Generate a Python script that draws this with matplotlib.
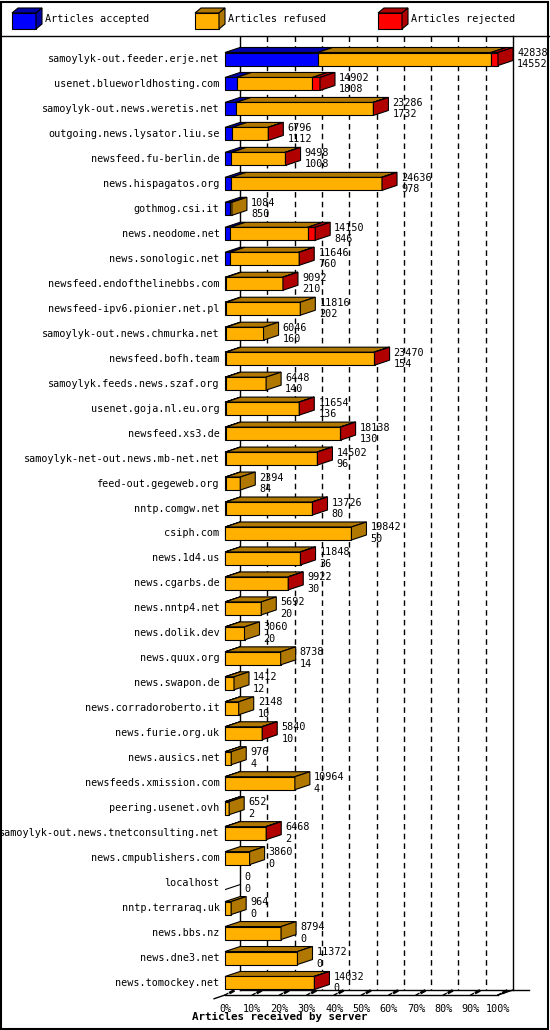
import matplotlib
matplotlib.use("Agg")
import matplotlib.pyplot as plt
from matplotlib.patches import Polygon, Rectangle

# data: server, total offered, accepted, rejected (rejected read from red widths)
servers = ["samoylyk-out.feeder.erje.net", "usenet.blueworldhosting.com", "samoylyk-out.news.weretis.net",
           "outgoing.news.lysator.liu.se", "newsfeed.fu-berlin.de", "news.hispagatos.org", "gothmog.csi.it",
           "news.neodome.net", "news.sonologic.net", "newsfeed.endofthelinebbs.com", "newsfeed-ipv6.pionier.net.pl",
           "samoylyk-out.news.chmurka.net", "newsfeed.bofh.team", "samoylyk.feeds.news.szaf.org",
           "usenet.goja.nl.eu.org", "newsfeed.xs3.de", "samoylyk-net-out.news.mb-net.net", "feed-out.gegeweb.org",
           "nntp.comgw.net", "csiph.com", "news.1d4.us", "news.cgarbs.de", "news.nntp4.net", "news.dolik.dev",
           "news.quux.org", "news.swapon.de", "news.corradoroberto.it", "news.furie.org.uk", "news.ausics.net",
           "newsfeeds.xmission.com", "peering.usenet.ovh", "samoylyk-out.news.tnetconsulting.net",
           "news.cmpublishers.com", "localhost", "nntp.terraraq.uk", "news.bbs.nz", "news.dne3.net",
           "news.tomockey.net"]
totals = [42838, 14902, 23286, 6796, 9498, 24636, 1084, 14150, 11646, 9092, 11816, 6046, 23470, 6448, 11654,
          18138, 14502, 2394, 13726, 19842, 11848, 9922, 5692, 3060, 8738, 1412, 2148, 5840, 976, 10964, 652,
          6468, 3860, 0, 964, 8794, 11372, 14032]
accepted = [14552, 1808, 1732, 1112, 1008, 978, 850, 846, 760, 210, 202, 160, 154, 140, 136, 130, 96, 84, 80,
            50, 36, 30, 20, 20, 14, 12, 10, 10, 4, 4, 2, 2, 0, 0, 0, 0, 0, 0]
rejected = [1100, 1200, 60, 60, 60, 60, 0, 1200, 60, 60, 0, 0, 60, 0, 60, 60, 60, 0, 60, 0, 60, 60, 0, 0, 0, 0,
            0, 60, 0, 0, 0, 60, 0, 0, 0, 0, 0, 60]

front = {"acc": "#0000ff", "ref": "#ffb000", "rej": "#ff0000"}
dark = {"acc": "#0000a8", "ref": "#b07800", "rej": "#b00000"}

W, H = 550, 1030
fig = plt.figure(figsize=(W / 100, H / 100), dpi=100)
FONT = dict(family="DejaVu Sans Mono", fontsize=7.3)

# axes: x in percent of max, y in rows
n = len(servers)
ROW = (983 - 59) / (n - 1)
top_px, floor_px = 36, 995
r_top = (top_px - 59) / ROW
r_floor = (floor_px - 59) / ROW
ax = fig.add_axes([225 / W, 1 - floor_px / H, 273 / W, (floor_px - top_px) / H])
ax.set_xlim(0, 100)
ax.set_ylim(r_floor, r_top)
ax.axis("off")
DX, DY = 5.5, 5 / ROW
HH = 6.5 / ROW
mx = max(totals)

# back wall grid
for p in range(10, 100, 10):
    ax.plot([p + DX, p + DX], [r_top, r_floor - DY], color="black", lw=1, ls=(0, (4, 3)), zorder=0)
ax.plot([DX, DX], [r_top, r_floor - DY], color="black", lw=1, zorder=0)
ax.plot([100 + DX, 100 + DX], [r_top, r_floor - DY], color="black", lw=1, zorder=0, clip_on=False)
# floor
ax.plot([-4, 0], [r_floor + 0.15, r_floor], color="black", lw=1, clip_on=False)
ax.plot([0, 100], [r_floor, r_floor], color="black", lw=1, clip_on=False)
ax.plot([DX, 100 + DX + 6], [r_floor - DY, r_floor - DY], color="black", lw=1, clip_on=False)
ax.plot([100, 100 + DX], [r_floor, r_floor - DY], color="black", lw=1, clip_on=False)
for p in range(0, 101, 10):
    ax.plot([p, p + 1], [r_floor, r_floor - 0.06], color="black", lw=1, clip_on=False)
    ax.plot([p + 2, p + 3], [r_floor - 0.1, r_floor - 0.16], color="black", lw=2, clip_on=False)
    ax.text(p, r_floor + 0.35, f"{p}%", ha="center", va="top", **FONT)


def box(x0, x1, y, key, side):
    ax.add_patch(Polygon([(x0, y - HH), (x0 + DX, y - HH - DY), (x1 + DX, y - HH - DY), (x1, y - HH)],
                         fc=dark[key], ec="black", lw=0.8, zorder=2, clip_on=False))
    ax.add_patch(Rectangle((x0, y - HH), x1 - x0, 2 * HH, fc=front[key], ec="black", lw=0.8, zorder=3,
                           clip_on=False))
    if side:
        ax.add_patch(Polygon([(x1, y - HH), (x1 + DX, y - HH - DY), (x1 + DX, y + HH - DY), (x1, y + HH)],
                             fc=dark[key], ec="black", lw=0.8, zorder=3, clip_on=False))


for i, name in enumerate(servers):
    t = totals[i]
    scale = 100.0 / mx
    a, rj = accepted[i], rejected[i]
    rf = t - a - rj
    segs = [(k, v) for k, v in (("acc", a), ("ref", rf), ("rej", rj)) if v > 0]
    x = 0.0
    for j, (k, v) in enumerate(segs):
        box(x, x + v * scale, i, k, j == len(segs) - 1)
        x += v * scale
    if t == 0:
        ax.plot([0, DX], [i + HH, i + HH - DY], color="black", lw=0.8)
    ax.text(-2, i, name, ha="right", va="center", **FONT)
    ax.text(x + DX + 1.5, i - 0.24, str(t), ha="left", va="center", **FONT)
    ax.text(x + DX + 1.5, i + 0.22, str(a), ha="left", va="center", **FONT)

# legend
leg = fig.add_axes([0, 1 - 36 / H, 1, 36 / H])
leg.set_xlim(0, W)
leg.set_ylim(36, 0)
leg.axis("off")
for x0, key, label in [(12, "acc", "Articles accepted"), (195, "ref", "Articles refused"),
                       (378, "rej", "Articles rejected")]:
    leg.add_patch(Polygon([(x0, 13), (x0 + 6, 8), (x0 + 30, 8), (x0 + 24, 13)], fc=dark[key], ec="black", lw=0.8))
    leg.add_patch(Rectangle((x0, 13), 24, 16, fc=front[key], ec="black", lw=0.8))
    leg.add_patch(Polygon([(x0 + 24, 13), (x0 + 30, 8), (x0 + 30, 24), (x0 + 24, 29)], fc=dark[key],
                          ec="black", lw=0.8))
    leg.text(x0 + 33, 19, label, ha="left", va="center", **FONT)

fig.add_artist(plt.Line2D([0, 1], [1 - 36 / H, 1 - 36 / H], color="black", lw=1))
fig.add_artist(Rectangle((0.002, 0.001), 0.995, 0.997, fill=False, ec="black", lw=1.5))
fig.text(280 / W, 1 - 1017 / H, "Articles received by server", ha="center", va="center",
         family="DejaVu Sans Mono", fontsize=7.8, fontweight="bold")

fig.savefig("out.png", dpi=100, facecolor="white")
